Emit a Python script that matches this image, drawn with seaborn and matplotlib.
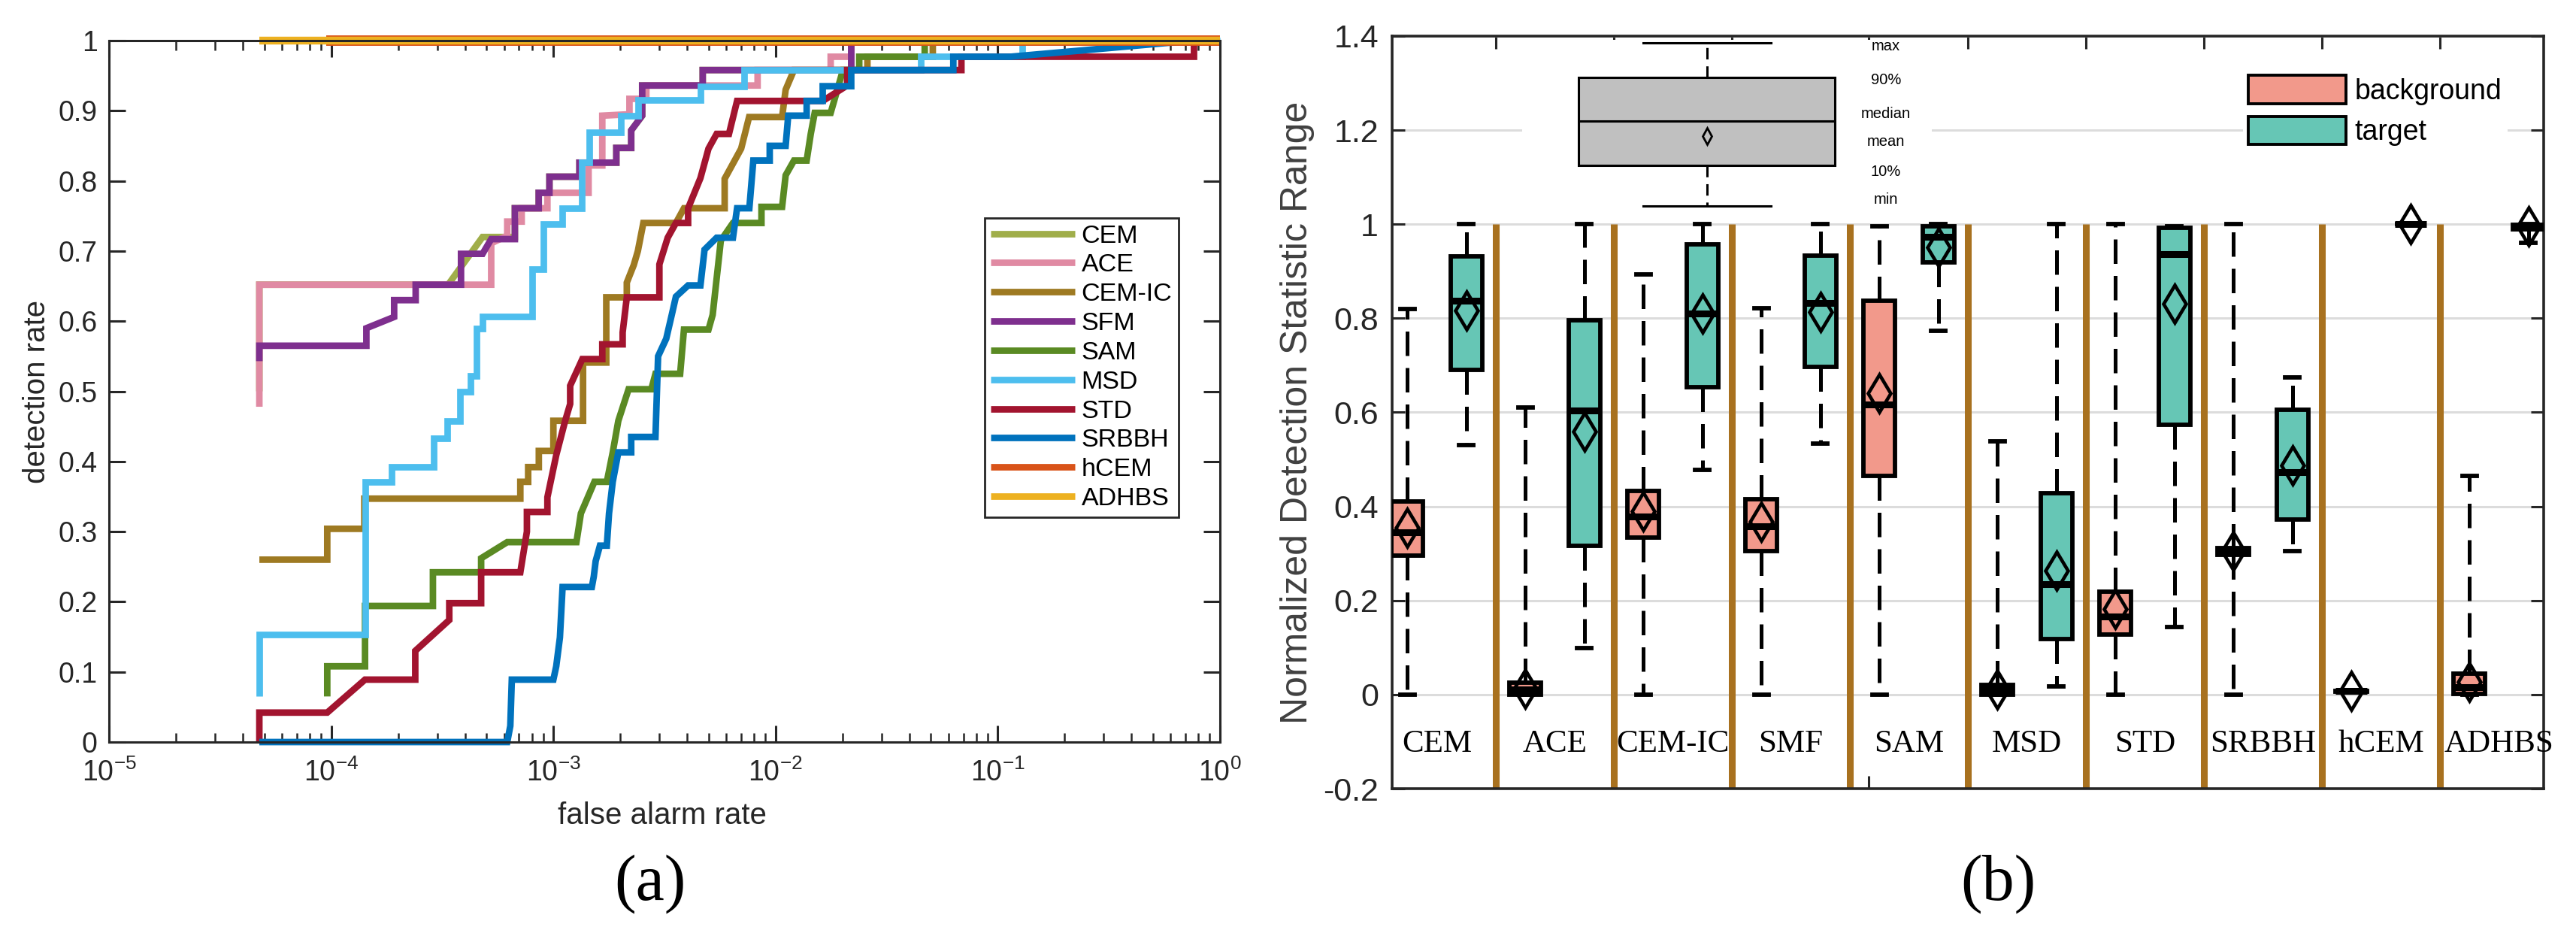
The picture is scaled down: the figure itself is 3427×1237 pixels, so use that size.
import numpy as np
import pandas as pd
import matplotlib
matplotlib.use("Agg")
import matplotlib.pyplot as plt
import seaborn as sns
from matplotlib.lines import Line2D
from matplotlib.patches import Patch, Rectangle
from matplotlib.ticker import FuncFormatter

# ---------------- data: (a) ROC curves ----------------
roc_methods = ["CEM", "ACE", "CEM-IC", "SFM", "SAM", "MSD", "STD", "SRBBH", "hCEM", "ADHBS"]
roc_colors = ["#A0AE4A", "#E08AA3", "#9E7A22", "#7E2F8E", "#5A8A23",
              "#4DBEEE", "#A2142F", "#0072BD", "#D95319", "#EDB120"]

far_cem = [4.75e-5, 4.75e-5, 3.36e-4, 4.8e-4, 6.71e-4, 6.71e-4, 8.59e-4, 8.59e-4, 9.6e-4, 9.6e-4,
           1.31e-3, 1.31e-3, 1.92e-3, 1.92e-3, 2.24e-3, 2.24e-3, 2.51e-3, 2.51e-3, 4.7e-3, 4.7e-3,
           2.19e-2, 2.19e-2, 1.0]
pd_cem = [0.50, 0.652, 0.652, 0.72, 0.72, 0.761, 0.761, 0.783, 0.783, 0.806,
          0.806, 0.826, 0.826, 0.847, 0.847, 0.872, 0.893, 0.936, 0.936, 0.958,
          0.958, 1.0, 1.0]

far_ace = [4.75e-5, 4.75e-5, 5.25e-4, 5.25e-4, 6.2e-4, 6.2e-4, 7.2e-4, 7.2e-4, 9.4e-4, 9.4e-4,
           1.44e-3, 1.44e-3, 1.66e-3, 1.66e-3, 2.2e-3, 2.2e-3, 2.62e-3, 2.62e-3, 8.3e-3, 8.3e-3,
           1.77e-2, 1.77e-2, 2.19e-2, 2.19e-2, 1.0]
pd_ace = [0.478, 0.652, 0.652, 0.711, 0.722, 0.742, 0.742, 0.761, 0.761, 0.783,
          0.783, 0.822, 0.822, 0.893, 0.895, 0.917, 0.917, 0.936, 0.936, 0.958,
          0.958, 0.977, 0.977, 1.0, 1.0]

far_cemic = [4.75e-5, 9.6e-5, 9.6e-5, 1.41e-4, 1.41e-4, 7.1e-4, 7.1e-4, 7.7e-4, 7.7e-4, 8.6e-4,
             8.6e-4, 1.0e-3, 1.0e-3, 1.36e-3, 1.36e-3, 1.73e-3, 1.73e-3, 2.14e-3, 2.14e-3, 2.3e-3,
             2.4e-3, 2.54e-3, 3.56e-3, 3.87e-3, 5.9e-3, 5.9e-3, 7.0e-3, 7.6e-3, 1.07e-2, 1.11e-2,
             1.21e-2, 2.59e-2, 2.59e-2, 5.1e-2, 5.1e-2, 1.0]
pd_cemic = [0.260, 0.260, 0.304, 0.304, 0.347, 0.347, 0.371, 0.371, 0.392, 0.392,
            0.415, 0.415, 0.458, 0.458, 0.541, 0.541, 0.634, 0.634, 0.655, 0.68,
            0.70, 0.74, 0.74, 0.761, 0.761, 0.803, 0.846, 0.891, 0.891, 0.93,
            0.958, 0.958, 0.977, 0.977, 1.0, 1.0]

far_sfm = [4.75e-5, 4.75e-5, 1.44e-4, 1.44e-4, 1.92e-4, 1.92e-4, 2.40e-4, 2.40e-4, 3.84e-4, 3.84e-4,
           4.80e-4, 5.25e-4, 6.71e-4, 6.71e-4, 8.59e-4, 8.59e-4, 9.60e-4, 9.60e-4, 1.31e-3, 1.31e-3,
           1.92e-3, 1.92e-3, 2.24e-3, 2.24e-3, 2.51e-3, 2.51e-3, 4.70e-3, 4.70e-3, 2.19e-2, 2.19e-2,
           1.0]
pd_sfm = [0.543, 0.565, 0.565, 0.590, 0.606, 0.630, 0.630, 0.652, 0.652, 0.696,
          0.696, 0.717, 0.717, 0.761, 0.761, 0.783, 0.783, 0.806, 0.806, 0.826,
          0.826, 0.847, 0.847, 0.872, 0.893, 0.936, 0.936, 0.958, 0.958, 1.0,
          1.0]

far_sam = [9.6e-5, 9.6e-5, 1.42e-4, 1.42e-4, 2.87e-4, 2.87e-4, 4.73e-4, 4.73e-4, 6.2e-4, 1.27e-3,
           1.33e-3, 1.53e-3, 1.74e-3, 1.85e-3, 1.96e-3, 2.18e-3, 2.76e-3, 2.88e-3, 3.72e-3, 3.87e-3,
           4.99e-3, 5.21e-3, 5.67e-3, 6.43e-3, 8.64e-3, 8.64e-3, 1.07e-2, 1.11e-2, 1.21e-2, 1.38e-2,
           1.44e-2, 1.50e-2, 1.77e-2, 1.85e-2, 2.01e-2, 2.38e-2, 2.38e-2, 4.69e-2, 4.69e-2, 1.0]
pd_sam = [0.065, 0.108, 0.108, 0.194, 0.194, 0.242, 0.242, 0.262, 0.285, 0.285,
          0.326, 0.371, 0.371, 0.413, 0.458, 0.503, 0.503, 0.525, 0.525, 0.588,
          0.588, 0.609, 0.715, 0.740, 0.740, 0.763, 0.763, 0.808, 0.829, 0.829,
          0.867, 0.897, 0.897, 0.918, 0.958, 0.958, 0.977, 0.977, 1.0, 1.0]

far_msd = [4.75e-5, 4.75e-5, 1.42e-4, 1.42e-4, 1.87e-4, 1.87e-4, 2.9e-4, 2.9e-4, 3.32e-4, 3.32e-4,
           3.8e-4, 3.8e-4, 4.24e-4, 4.24e-4, 4.5e-4, 4.5e-4, 4.8e-4, 4.8e-4, 8.0e-4, 8.0e-4,
           9.0e-4, 9.0e-4, 1.10e-3, 1.10e-3, 1.34e-3, 1.34e-3, 1.45e-3, 1.45e-3, 2.01e-3, 2.01e-3,
           2.4e-3, 2.4e-3, 4.6e-3, 4.6e-3, 7.2e-3, 7.2e-3, 4.5e-2, 4.5e-2, 0.129, 0.129,
           1.0]
pd_msd = [0.065, 0.153, 0.153, 0.371, 0.371, 0.392, 0.392, 0.4335, 0.4335, 0.458,
          0.458, 0.50, 0.50, 0.522, 0.522, 0.590, 0.590, 0.607, 0.607, 0.674,
          0.674, 0.738, 0.738, 0.761, 0.761, 0.826, 0.826, 0.869, 0.869, 0.893,
          0.893, 0.915, 0.915, 0.935, 0.935, 0.958, 0.958, 0.977, 0.977, 1.0,
          1.0]

far_std = [4.75e-5, 4.75e-5, 9.6e-5, 1.42e-4, 2.39e-4, 2.39e-4, 3.4e-4, 3.4e-4, 4.73e-4, 4.73e-4,
           7.1e-4, 7.6e-4, 7.6e-4, 9.4e-4, 9.4e-4, 1.03e-3, 1.13e-3, 1.19e-3, 1.19e-3, 1.35e-3,
           1.66e-3, 1.66e-3, 2.05e-3, 2.05e-3, 2.14e-3, 3.0e-3, 3.0e-3, 3.27e-3, 3.56e-3, 4.04e-3,
           4.04e-3, 4.59e-3, 4.99e-3, 5.43e-3, 6.17e-3, 6.71e-3, 1.63e-2, 2.1e-2, 2.1e-2, 6.86e-2,
           6.86e-2, 0.764, 0.764, 1.0]
pd_std = [0.0, 0.042, 0.042, 0.089, 0.089, 0.13, 0.174, 0.198, 0.198, 0.242,
          0.242, 0.30, 0.328, 0.328, 0.349, 0.409, 0.458, 0.482, 0.508, 0.546,
          0.546, 0.567, 0.567, 0.584, 0.634, 0.634, 0.681, 0.719, 0.740, 0.740,
          0.761, 0.804, 0.846, 0.867, 0.867, 0.914, 0.914, 0.936, 0.958, 0.958,
          0.977, 0.977, 1.0, 1.0]

far_srbbh = [4.75e-5, 6.2e-4, 6.4e-4, 6.5e-4, 1.0e-3, 1.03e-3, 1.07e-3, 1.10e-3, 1.49e-3, 1.52e-3,
             1.55e-3, 1.62e-3, 1.74e-3, 1.78e-3, 1.85e-3, 1.96e-3, 2.24e-3, 2.24e-3, 2.88e-3, 2.96e-3,
             3.22e-3, 3.41e-3, 3.56e-3, 4.04e-3, 4.59e-3, 4.79e-3, 5.43e-3, 6.43e-3, 6.71e-3, 7.62e-3,
             7.94e-3, 9.41e-3, 9.41e-3, 1.11e-2, 1.14e-2, 1.38e-2, 1.38e-2, 1.63e-2, 1.63e-2, 2.19e-2,
             2.19e-2, 6.31e-2, 6.31e-2, 0.114, 0.76, 1.0]
pd_srbbh = [0.0, 0.0, 0.023, 0.089, 0.089, 0.108, 0.149, 0.221, 0.221, 0.236,
            0.258, 0.28, 0.28, 0.326, 0.371, 0.413, 0.413, 0.435, 0.435, 0.55,
            0.575, 0.609, 0.635, 0.651, 0.651, 0.702, 0.719, 0.719, 0.761, 0.761,
            0.829, 0.829, 0.85, 0.85, 0.893, 0.893, 0.914, 0.914, 0.935, 0.935,
            0.958, 0.958, 0.977, 0.977, 1.0, 1.0]

far_hcem = [9.5e-5, 1.0]
pd_hcem = [1.0, 1.0]
far_adhbs = [4.75e-5, 1.0]
pd_adhbs = [1.0, 1.0]

roc_far = [far_cem, far_ace, far_cemic, far_sfm, far_sam, far_msd, far_std, far_srbbh, far_hcem, far_adhbs]
roc_pd = [pd_cem, pd_ace, pd_cemic, pd_sfm, pd_sam, pd_msd, pd_std, pd_srbbh, pd_hcem, pd_adhbs]

# ---------------- data: (b) box statistics ----------------
methods = ["CEM", "ACE", "CEM-IC", "SMF", "SAM", "MSD", "STD", "SRBBH", "hCEM", "ADHBS"]
groups = ["background", "target"]
box_colors = {"background": "#F2998B", "target": "#66C6B5"}

bg_min = [0.0, 0.0, 0.0, 0.0, 0.0, 0.0, 0.0, 0.0, 0.004, 0.0]
bg_p10 = [0.296, 0.0, 0.334, 0.305, 0.465, 0.0, 0.127, 0.297, 0.006, 0.002]
bg_med = [0.345, 0.011, 0.378, 0.358, 0.616, 0.011, 0.166, 0.305, 0.007, 0.015]
bg_p90 = [0.41, 0.025, 0.433, 0.416, 0.838, 0.021, 0.219, 0.311, 0.008, 0.045]
bg_max = [0.82, 0.611, 0.893, 0.822, 0.996, 0.538, 1.0, 1.0, 0.01, 0.465]
bg_mean = [0.355, 0.012, 0.39, 0.368, 0.641, 0.011, 0.182, 0.305, 0.007, 0.027]

tg_min = [0.53, 0.099, 0.478, 0.534, 0.774, 0.017, 0.144, 0.305, 1.0, 0.961]
tg_p10 = [0.69, 0.317, 0.654, 0.696, 0.919, 0.118, 0.573, 0.372, 1.0, 0.989]
tg_med = [0.837, 0.604, 0.81, 0.832, 0.974, 0.235, 0.936, 0.473, 1.0, 0.994]
tg_p90 = [0.932, 0.796, 0.958, 0.933, 0.995, 0.428, 0.992, 0.605, 1.0, 0.999]
tg_max = [1.0, 1.0, 1.0, 1.0, 1.0, 1.0, 0.996, 0.674, 1.0, 1.0]
tg_mean = [0.816, 0.56, 0.81, 0.813, 0.951, 0.264, 0.831, 0.488, 1.0, 0.995]

# key box (explanatory inset)
key_stats = dict(whislo=1.039, q1=1.125, med=1.2195, mean=1.188, q3=1.312, whishi=1.386)
key_labels = ["max", "90%", "median", "mean", "10%", "min"]
key_text_y = [1.378, 1.307, 1.235, 1.176, 1.112, 1.052]

# ---------------- style ----------------
plt.rcParams['font.family'] = ['Liberation Sans', 'DejaVu Sans']
plt.rcParams['mathtext.fontset'] = 'custom'
plt.rcParams['mathtext.rm'] = 'Liberation Sans'
plt.rcParams['mathtext.it'] = 'Liberation Sans:italic'
plt.rcParams['mathtext.bf'] = 'Liberation Sans:bold'
plt.rcParams['axes.unicode_minus'] = False
DARK = "#262626"

fig = plt.figure(figsize=(34.27, 12.37), dpi=100)
ax1 = fig.add_axes([0.04231, 0.20210, 0.43128, 0.75424])
ax2 = fig.add_axes([0.54041, 0.15198, 0.44704, 0.80922])

# ---------------- (a) ----------------
ax1.set_xscale('log')
for name, col, fx, fy in zip(roc_methods, roc_colors, roc_far, roc_pd):
    lw = 6.3
    if name == "hCEM":
        lw = 10.0
    elif name == "ADHBS":
        lw = 7.5
    sns.lineplot(x=fx, y=fy, ax=ax1, color=col, linewidth=lw, sort=False,
                 estimator=None, clip_on=False, solid_joinstyle='miter',
                 solid_capstyle='butt')
ax1.set_xlim(1e-5, 1)
ax1.set_ylim(0, 1)
ax1.set_yticks(np.round(np.arange(0, 1.01, 0.1), 1))
ax1.yaxis.set_major_formatter(FuncFormatter(lambda v, p: f"{v:g}"))
ax1.tick_params(which='major', direction='in', length=16, width=2.2, top=True, right=True,
                labelsize=27, colors=DARK)
ax1.tick_params(which='minor', direction='in', length=9, width=1.8, top=True, right=True, colors=DARK)
ax1.tick_params(axis='x', which='major', pad=16)
ax1.tick_params(axis='y', which='major', pad=11)
for s in ax1.spines.values():
    s.set_linewidth(2.2)
    s.set_color(DARK)
ax1.set_xlabel("false alarm rate", fontsize=29, color=DARK)
ax1.xaxis.set_label_coords(0.498, -0.085)
ax1.set_ylabel("detection rate", fontsize=29, color=DARK)
ax1.yaxis.set_label_coords(-0.052, 0.5)

leg_handles = [Line2D([0], [0], color=c, linewidth=6.3, solid_capstyle='butt') for c in roc_colors]
leg1 = ax1.legend(leg_handles, roc_methods, loc='upper left', bbox_to_anchor=(0.788, 0.747),
                  fontsize=24.5, handlelength=3.3, handletextpad=0.24, labelspacing=0.23,
                  borderpad=0.25, borderaxespad=0, frameon=True, fancybox=False,
                  edgecolor=DARK, framealpha=1)
leg1.get_frame().set_linewidth(2.0)

# ---------------- (b) ----------------
rows = []
stats_by_group = {
    "background": (bg_min, bg_p10, bg_med, bg_p90, bg_max),
    "target": (tg_min, tg_p10, tg_med, tg_p90, tg_max),
}
for i, m in enumerate(methods):
    for g in groups:
        for arr in stats_by_group[g]:
            rows.append((m, g, arr[i]))
df_box = pd.DataFrame(rows, columns=["method", "group", "value"])
df_mean = pd.DataFrame({"method": methods * 2,
                        "group": ["background"] * len(methods) + ["target"] * len(methods),
                        "value": bg_mean + tg_mean})

ax2.yaxis.grid(True, color="#dcdcdc", linewidth=2.2)
ax2.set_axisbelow(True)

sns.boxplot(data=df_box, x="method", y="value", hue="group", order=methods, hue_order=groups,
            palette=box_colors, saturation=1, width=1.0, gap=0.46, whis=(0, 100),
            linecolor="black", linewidth=4.2, fliersize=0, legend=False, ax=ax2,
            medianprops=dict(linewidth=6.5, color="black"),
            whiskerprops=dict(linestyle=(0, (6.5, 3.2)), linewidth=3.6),
            capprops=dict(linewidth=4.2), capwidths=0.12, zorder=3)

sns.pointplot(data=df_mean, x="method", y="value", hue="group", order=methods, hue_order=groups,
              dodge=0.5, markers="d", linestyles="none", errorbar=None, palette=box_colors,
              legend=False, ax=ax2, markerfacecolor="none", markeredgecolor="black",
              markersize=25, markeredgewidth=3.3, zorder=6)

seps = np.arange(len(methods) - 1) + 0.5
ax2.vlines(seps, -0.2, 1.0, colors="#A8711F", linewidth=6.5, zorder=2)

# white backdrop + explanatory key box
ax2.add_patch(Rectangle((0.723, 1.03), 3.47, 0.362, facecolor="white", edgecolor="none", zorder=1))
ax2.bxp([dict(key_stats, fliers=[])], positions=[2.287], widths=[2.173], capwidths=[1.083],
        patch_artist=True, showmeans=True, showfliers=False, manage_ticks=False,
        boxprops=dict(facecolor="#C0C0C0", edgecolor="black", linewidth=2.2),
        medianprops=dict(color="black", linewidth=2.2),
        whiskerprops=dict(color="black", linewidth=2.2, linestyle=(0, (5, 3))),
        capprops=dict(color="black", linewidth=2.2),
        meanprops=dict(marker="d", markerfacecolor="none", markeredgecolor="black",
                       markersize=11, markeredgewidth=2),
        zorder=4)
for lab, yv in zip(key_labels, key_text_y):
    ax2.text(3.806, yv, lab, ha="center", va="center", fontsize=14.5, color="black", zorder=5)

for i, m in enumerate(methods):
    ax2.text(i, -0.105, m, ha="center", va="center", fontsize=31,
             family=["Liberation Serif", "DejaVu Serif"], color="black", zorder=5)

ax2.set_xlim(-0.379, 9.379)
ax2.set_ylim(-0.2, 1.4)
ax2.set_yticks(np.round(np.arange(-0.2, 1.41, 0.2), 1))
ax2.yaxis.set_major_formatter(FuncFormatter(lambda v, p: f"{v:g}"))
ax2.set_xticks([0.5, 1.5, 2.5, 3.66, 4.5, 5.5, 6.5, 7.5, 8.5])
ax2.set_xticklabels([])
ax2.set_xlabel("")
ax2.tick_params(which='major', direction='in', length=12, width=2.2, top=True, right=True,
                labelsize=31, colors=DARK)
ax2.tick_params(axis='y', pad=13)
ax2.tick_params(axis='x', labelbottom=False)
for s in ax2.spines.values():
    s.set_linewidth(2.6)
    s.set_color(DARK)
ax2.set_ylabel("Normalized Detection Statistic Range", fontsize=36, color="#404040")
ax2.yaxis.set_label_coords(-0.0672, 0.5)

leg_patches = [Patch(facecolor=box_colors[g], edgecolor="black", linewidth=2.8) for g in groups]
leg2 = ax2.legend(leg_patches, groups, loc='upper left', bbox_to_anchor=(0.7386, 0.9555),
                  fontsize=27, handlelength=3.47, handleheight=1.17, handletextpad=0.3,
                  labelspacing=0.4, borderpad=0.2, borderaxespad=0, frameon=True,
                  fancybox=False, edgecolor="none", facecolor="white", framealpha=1)

fig.text(865 / 3427, 1 - 1176 / 1237, "(a)", ha="center", va="center", fontsize=62,
         family=["Liberation Serif", "DejaVu Serif"])
fig.text(2658 / 3427, 1 - 1176 / 1237, "(b)", ha="center", va="center", fontsize=62,
         family=["Liberation Serif", "DejaVu Serif"])

fig.savefig("out.png", dpi=100)
